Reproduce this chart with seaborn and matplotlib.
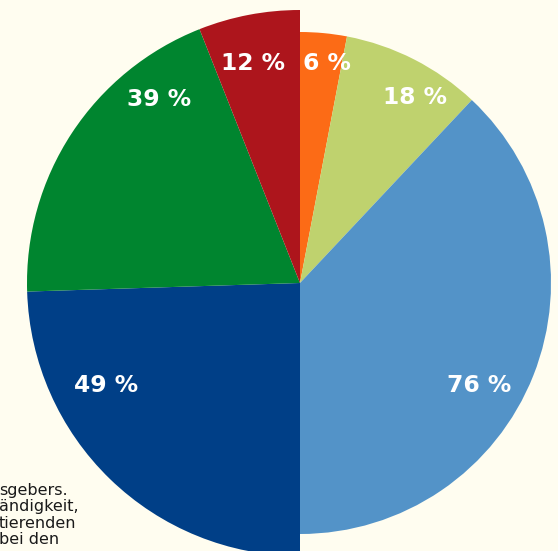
import matplotlib.pyplot as plt
import seaborn as sns

# -----------------------------------------------------------------------------
# Data: two half-pies sharing one centre (right half and left half each = 100 %)
# -----------------------------------------------------------------------------
right_values = [6, 18, 76]
right_labels = ['6 %', '18 %', '76 %']
right_colors = ['#fc6b16', '#bfd26e', '#5393c8']

left_values = [49, 39, 12]
left_labels = ['49 %', '39 %', '12 %']
left_colors = ['#003f87', '#00852f', '#ad151c']

footnote_lines = ['sgebers.', 'ändigkeit,', 'tierenden', 'bei den']

# label anchor points (pixel space, y up)
right_label_xy = [(327, 488), (415, 453), (479, 166)]
left_label_xy = [(106, 166), (159, 452), (253, 488)]

BG = '#fffdf0'
W, H = 558, 551
CENTER = (300, 268)
R_RIGHT, R_LEFT = 251, 273

sns.set_theme(style='white')
plt.rcParams['font.family'] = ['DejaVu Sans']

fig = plt.figure(figsize=(W / 100, H / 100), dpi=100, facecolor=BG)
ax = fig.add_axes([0, 0, 1, 1])
ax.set_facecolor(BG)

# right half: a dummy 100 fills the (invisible) left side
wedges_r, _ = ax.pie(right_values + [100], colors=right_colors + ['none'],
                     startangle=90, counterclock=False,
                     center=CENTER, radius=R_RIGHT,
                     wedgeprops=dict(linewidth=0))
# left half: the dummy 100 takes the right side first
wedges_l, _ = ax.pie([100] + left_values, colors=['none'] + left_colors,
                     startangle=90, counterclock=False,
                     center=CENTER, radius=R_LEFT,
                     wedgeprops=dict(linewidth=0))
for w in wedges_r + wedges_l:
    w.set_zorder(2)

for lab, (x, y) in zip(right_labels + left_labels, right_label_xy + left_label_xy):
    ax.text(x, y, lab, color='white', fontsize=16.8, fontweight='bold',
            ha='center', va='center', zorder=3)

# clipped footnote behind the pie
for i, line in enumerate(footnote_lines):
    ax.text(-1, 60 - 16 * i, line, fontsize=11.5, color='#1a1a1a',
            ha='left', va='center', zorder=1)

ax.set_xlim(0, W)
ax.set_ylim(0, H)
ax.set_aspect('equal')
ax.axis('off')

fig.savefig('out.png', dpi=100, facecolor=BG)
